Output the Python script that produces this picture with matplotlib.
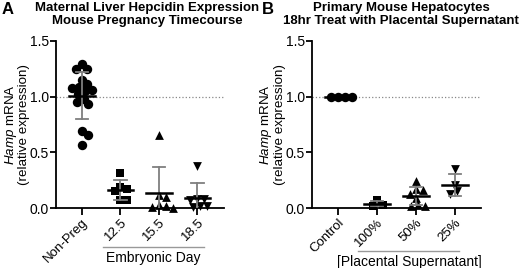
import numpy as np
import matplotlib
matplotlib.use('Agg')
import matplotlib.pyplot as plt

plt.rcParams['font.family'] = ['Liberation Sans', 'DejaVu Sans']
plt.rcParams['mathtext.fontset'] = 'custom'
plt.rcParams['mathtext.rm'] = 'Liberation Sans'
plt.rcParams['mathtext.it'] = 'Liberation Sans:italic'

# --- data (relative Hamp expression) ---
# Panel A: maternal liver, pregnancy timecourse
a_labels = ['Non-Preg', '12.5', '15.5', '18.5']
a_nonpreg = [1.29, 1.25, 1.25, 1.15, 1.11, 1.09, 1.08, 1.06, 1.05, 1.02, 0.98, 0.95, 0.93, 0.69, 0.66, 0.57]
a_e125 = [0.31, 0.19, 0.17, 0.15, 0.075, 0.075]
a_e155 = [0.66, 0.12, 0.10, 0.03, 0.02, 0.01, 0.0]
a_e185 = [0.38, 0.08, 0.08, 0.07, 0.02, 0.02, 0.01]

# Panel B: primary hepatocytes + placental supernatant
b_labels = ['Control', '100%', '50%', '25%']
b_control = [1.0, 1.0, 1.0, 1.0]
b_100 = [0.07, 0.03, 0.02]
b_50 = [0.24, 0.17, 0.16, 0.13, 0.09, 0.03, 0.02, 0.02]
b_25 = [0.35, 0.21, 0.15, 0.13]

markers = ['o', 's', '^', 'v']
yticks = [0.0, 0.5, 1.0, 1.5]

W, H = 520, 268
fig = plt.figure(figsize=(W / 100, H / 100), dpi=100)


def swarm(vals, xscale, yscale, d=7.0):
    # simple deterministic beeswarm, offsets in data units
    cands = sorted([0.0] + [s * k * 0.5 for k in range(1, 60) for s in (1, -1)], key=abs)
    placed, offs = [], []
    for v in vals:
        for c in cands:
            if all((c - px) ** 2 + ((v - pv) * yscale) ** 2 >= d * d for px, pv in placed):
                break
        placed.append((c, v))
        offs.append(c / xscale)
    return offs


def panel(rect, groups, labels, xlim, bracket, bracket_text):
    ax = fig.add_axes(rect)
    ax.set_xlim(*xlim)
    ax.set_ylim(0, 1.5)
    xscale = rect[2] * W / (xlim[1] - xlim[0])
    yscale = rect[3] * H / 1.5
    ax.axhline(1.0, color='#888888', ls=':', lw=0.9, zorder=1)
    for i, vals in enumerate(groups):
        offs = swarm(vals, xscale, yscale)
        ms = 46 if markers[i] == 'o' else 40
        ax.scatter(np.array(offs) + i, vals, marker=markers[i], s=ms, color='black',
                   linewidths=0, zorder=3, clip_on=False)
        m = np.mean(vals)
        sd = np.std(vals, ddof=1)
        if sd > 0:
            ax.plot([i, i], [m - sd, m + sd], color='#7f7f7f', lw=1.3, zorder=4)
            for y in (m - sd, m + sd):
                ax.plot([i - 0.16, i + 0.16], [y, y], color='#7f7f7f', lw=1.3, zorder=4)
        ax.plot([i - 0.33, i + 0.33], [m, m], color='black', lw=1.8, zorder=5)

    for s in ['top', 'right']:
        ax.spines[s].set_visible(False)
    for s in ['left', 'bottom']:
        ax.spines[s].set_linewidth(1.3)
    ax.set_yticks(yticks)
    ax.set_yticklabels(['%.1f' % t for t in yticks], fontsize=10)
    ax.set_xticks(range(len(labels)))
    ax.set_xticklabels(labels, rotation=45, ha='right', rotation_mode='anchor', fontsize=9.5)
    ax.tick_params(axis='y', length=4, width=1.3, pad=1)
    ax.tick_params(axis='x', length=5, width=1.3, pad=1)
    ax.set_ylabel('$\\mathit{Hamp}$ mRNA\n(relative expression)', fontsize=9.6, linespacing=1.0)
    ax.yaxis.set_label_coords(-25.5 / (rect[2] * W), 0.5)

    tr = ax.get_xaxis_transform()
    ax.plot(bracket[:2], [bracket[2]] * 2, color='#999999', lw=1.0, transform=tr, clip_on=False)
    ax.text(bracket[3], bracket[2] - 0.025, bracket_text, transform=tr, ha='center', va='top',
            fontsize=10)
    return ax


ax_a = panel([56 / W, 1 - 208 / H, 168 / W, 167 / H],
             [a_nonpreg, a_e125, a_e155, a_e185], a_labels,
             (-0.675, 3.69), (0.545, 3.17, -0.234, 1.84), 'Embryonic Day')
ax_b = panel([312 / W, 1 - 208 / H, 169 / W, 167 / H],
             [b_control, b_100, b_50, b_25], b_labels,
             (-0.67, 3.67), (0.51, 3.10, -0.257, 1.82), '[Placental Supernatant]')

fig.text(147 / W, 1 - 2 / H, 'Maternal Liver Hepcidin Expression\nMouse Pregnancy Timecourse',
         ha='center', va='top', fontsize=9.5, fontweight='bold', linespacing=1.15)
fig.text(401 / W, 1 - 2 / H, 'Primary Mouse Hepatocytes\n18hr Treat with Placental Supernatant',
         ha='center', va='top', fontsize=9.5, fontweight='bold', linespacing=1.15)
fig.text(2 / W, 1 - 2 / H, 'A', ha='left', va='top', fontsize=12, fontweight='bold')
fig.text(262 / W, 1 - 2 / H, 'B', ha='left', va='top', fontsize=12, fontweight='bold')

fig.savefig('out.png', dpi=100)
